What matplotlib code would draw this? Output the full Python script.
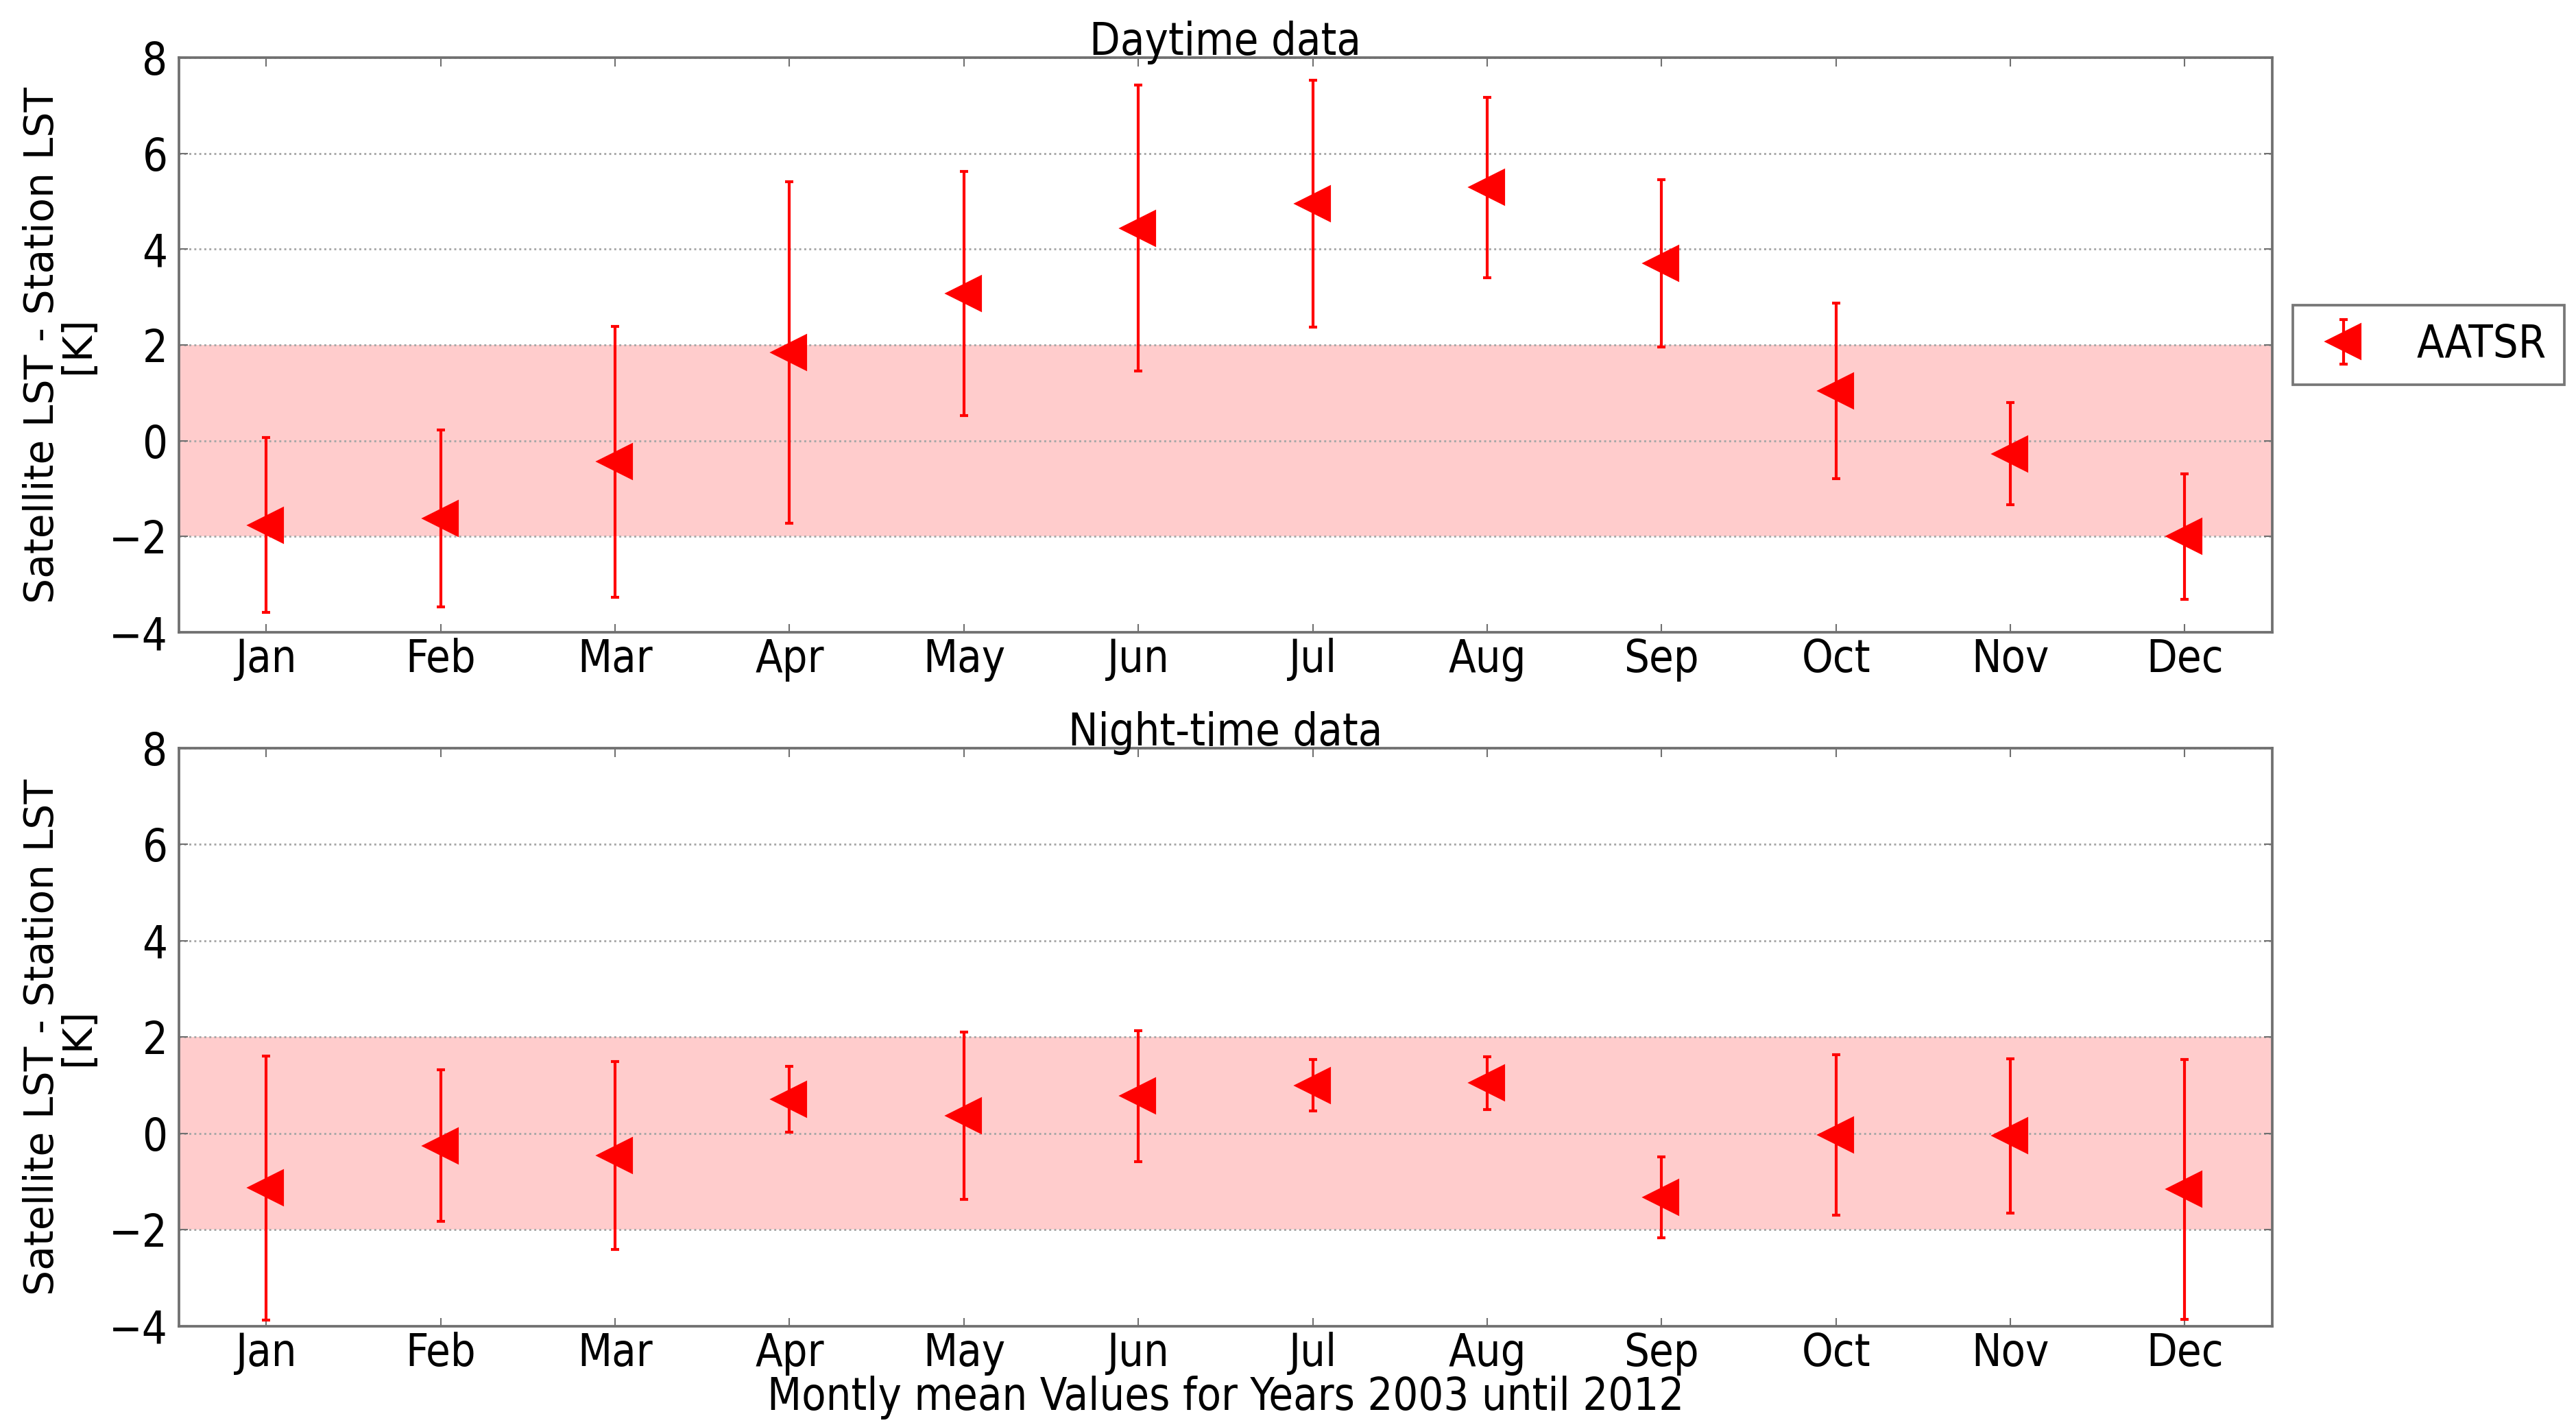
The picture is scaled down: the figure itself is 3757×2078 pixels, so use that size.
import matplotlib
matplotlib.use("Agg")
import matplotlib.pyplot as plt
from matplotlib import font_manager
import numpy as np

months = ["Jan", "Feb", "Mar", "Apr", "May", "Jun", "Jul", "Aug", "Sep", "Oct", "Nov", "Dec"]

day_mean = [-1.76, -1.62, -0.44, 1.84, 3.07, 4.44, 4.95, 5.29, 3.70, 1.04, -0.27, -2.00]
day_err = [1.82, 1.85, 2.83, 3.57, 2.55, 2.99, 2.58, 1.88, 1.75, 1.83, 1.06, 1.31]

night_mean = [-1.13, -0.25, -0.46, 0.71, 0.37, 0.78, 1.00, 1.05, -1.32, -0.03, -0.05, -1.16]
night_err = [2.74, 1.57, 1.95, 0.68, 1.74, 1.36, 0.53, 0.55, 0.84, 1.67, 1.60, 2.70]

band_low, band_high = -2, 2
y_ticks = [-4, -2, 0, 2, 4, 6, 8]

names = {f.name for f in font_manager.fontManager.ttflist}
cond = "DejaVu Sans Condensed" if "DejaVu Sans Condensed" in names else "DejaVu Sans"
plt.rcParams['font.family'] = ['DejaVu Sans']
hsize = 15.5
hfont = dict(family=[cond], stretch="condensed")

fig = plt.figure(figsize=(3757 / 300, 2078 / 300), dpi=300)

ax1 = fig.add_axes([0.0695, 0.5563, 0.8125, 0.4033])
ax2 = fig.add_axes([0.0695, 0.0693, 0.8125, 0.4057])

x = np.arange(1, 13)
spine_col = "#707070"

def style(ax, title, mean, err):
    ax.axhspan(band_low, band_high, color="#ffcccc", zorder=0, lw=0)
    ax.errorbar(x, mean, yerr=err, fmt="<", color="red", ecolor="red",
                markersize=11.5, elinewidth=1.0, capsize=1.5, capthick=1.0,
                markeredgecolor="red", label="AATSR", zorder=3)
    ax.set_xlim(0.5, 12.5)
    ax.set_ylim(-4, 8)
    ax.set_yticks(y_ticks)
    ax.set_yticklabels([str(v).replace("-", "\u2212") for v in y_ticks], **hfont)
    ax.set_xticks(x)
    ax.set_xticklabels(months, **hfont)
    ax.yaxis.grid(True, linestyle=(0, (1, 1.5)), color="#a8a8a8", linewidth=0.7)
    ax.tick_params(direction="in", length=3, width=0.5, color=spine_col,
                   labelsize=hsize, top=True, right=True, pad=2)
    ax.tick_params(axis="y", pad=4)
    for s in ax.spines.values():
        s.set_color(spine_col)
        s.set_linewidth(0.9)
    ax.set_title(title, fontsize=hsize, pad=1, **hfont)
    ax.set_ylabel("Satellite LST - Station LST\n[K]", fontsize=14, labelpad=4,
                  linespacing=0.9)

style(ax1, "Daytime data", day_mean, day_err)
style(ax2, "Night-time data", night_mean, night_err)

ax2.set_xlabel("Montly mean Values for Years 2003 until 2012", fontsize=hsize,
               labelpad=0, **hfont)

leg = ax1.legend(loc="center left", bbox_to_anchor=(1.01, 0.5), numpoints=1,
                 prop=font_manager.FontProperties(family=cond, stretch="condensed", size=hsize),
                 fancybox=False, edgecolor="#555555",
                 borderpad=0.4, handletextpad=0.9, borderaxespad=0, handlelength=1.5)
leg.get_frame().set_linewidth(0.9)

fig.savefig("out.png", dpi=300)
